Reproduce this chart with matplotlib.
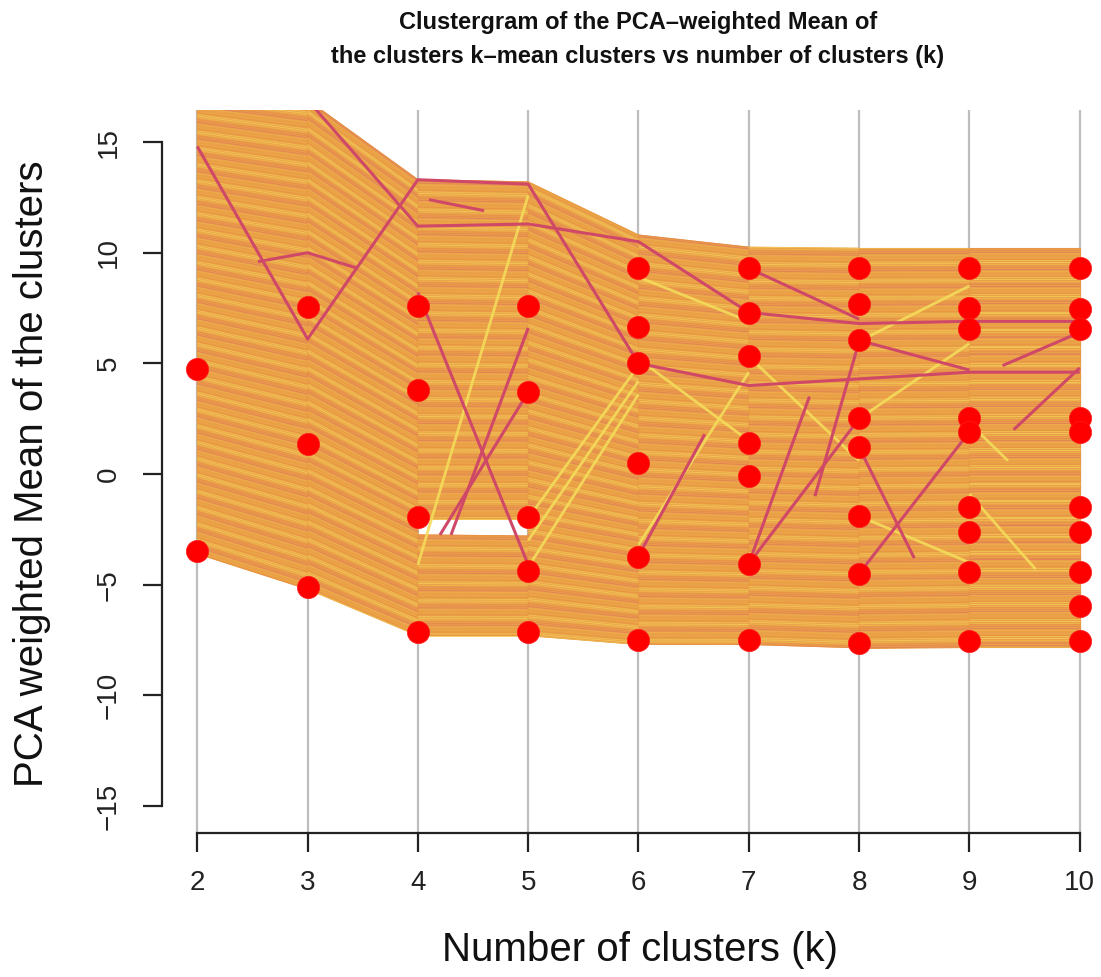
import numpy as np
import matplotlib
matplotlib.use("Agg")
import matplotlib.pyplot as plt
from matplotlib.patches import Polygon
from matplotlib.collections import LineCollection

plt.rcParams["font.family"] = ["Liberation Sans", "DejaVu Sans"]

# Number of clusters on the x axis
k_values = [2, 3, 4, 5, 6, 7, 8, 9, 10]

# PCA-weighted cluster means for each k (red dots)
cluster_means = [
    [4.73, -3.46],
    [7.53, 1.38, -5.09],
    [7.58, 3.78, -1.92, -7.13],
    [7.58, 3.69, -1.92, -4.37, -7.13],
    [9.30, 6.63, 5.00, 0.48, -3.73, -7.49],
    [9.30, 7.26, 5.32, 1.42, -0.11, -4.05, -7.49],
    [9.30, 7.67, 6.04, 2.51, 1.24, -1.88, -4.50, -7.62],
    [9.30, 7.49, 6.54, 2.51, 1.88, -1.47, -2.60, -4.41, -7.53],
    [9.30, 7.44, 6.54, 2.51, 1.88, -1.47, -2.60, -4.41, -5.95, -7.53],
]

# Envelope of the observation lines at each k
band_top = [17.5, 16.9, 13.3, 13.2, 10.8, 10.25, 10.2, 10.2, 10.2]
band_bottom = [-3.6, -5.2, -7.3, -7.3, -7.7, -7.7, -7.85, -7.8, -7.8]

# Empty strip between k=4 and k=5
gap_k = [4, 5]
gap_upper = [-2.05, -2.05]
gap_lower = [-2.75, -2.80]

# Individual observation paths that stand out
pink_paths = [
    ([2, 3, 4, 5, 6, 7, 8, 9, 10], [14.8, 6.1, 13.3, 13.1, 5.0, 4.0, 4.3, 4.6, 4.6]),
    ([3, 4, 5, 6, 7, 8, 9, 10], [16.9, 11.2, 11.3, 10.5, 7.3, 6.8, 6.9, 6.9]),
    ([2.55, 3.0, 3.45], [9.6, 10.0, 9.3]),
    ([4.0, 5.0], [8.2, -4.1]),
    ([4.2, 5.0], [-2.75, 3.7]),
    ([4.3, 5.0], [-2.75, 6.6]),
    ([4.1, 4.6], [12.4, 11.9]),
    ([7.0, 8.0], [9.3, 7.0]),
    ([7.0, 7.55], [-4.05, 3.5]),
    ([7.0, 8.0], [-4.05, 2.5]),
    ([8.0, 8.5], [1.2, -3.8]),
    ([8.0, 9.0], [-4.5, 1.9]),
    ([7.6, 8.0], [-1.0, 6.0]),
    ([6.0, 6.6], [-3.7, 1.8]),
    ([8.0, 9.0], [6.04, 4.7]),
    ([9.3, 10.0], [4.9, 6.4]),
    ([9.4, 10.0], [2.0, 4.8]),
]

yellow_paths = [
    ([4.0, 5.0], [-4.1, 12.6]),
    ([5.0, 6.0], [-2.0, 4.9]),
    ([5.0, 6.0], [-3.0, 4.2]),
    ([5.0, 6.0], [-4.2, 3.6]),
    ([6.0, 7.0], [8.9, 6.9]),
    ([6.0, 7.0], [5.2, 1.5]),
    ([6.0, 7.0], [-3.2, 4.6]),
    ([7.0, 8.0], [5.3, 0.6]),
    ([8.0, 9.0], [6.0, 8.5]),
    ([8.0, 9.0], [2.5, 5.9]),
    ([8.0, 9.0], [-1.9, -4.0]),
    ([9.0, 9.6], [-0.9, -4.3]),
    ([9.0, 9.35], [2.3, 0.6]),
]

W, H = 1101, 977
fig = plt.figure(figsize=(W / 100, H / 100), dpi=100)
px_left, px_right, px_top, px_bottom = 162, 1115, 110, 833
ax = fig.add_axes([px_left / W, 1 - px_bottom / H,
                   (px_right - px_left) / W, (px_bottom - px_top) / H])
ax.set_xlim(1.68, 10.32)
ax.set_ylim(-16.22, 16.45)

# vertical guide lines at each k
ax.vlines(k_values, -16.22, 16.45, color="#BDBDBD", lw=1.6, zorder=0)

base_color = "#EAA04A"
stripe_colors = ["#E99440", "#EEAE4A", "#E8904A", "#F1C250", "#EAA042",
                 "#E58A4C", "#F3CB58", "#ECA644", "#E2805A", "#EFB64A"]


def sub_bands(i):
    k0, k1 = k_values[i], k_values[i + 1]
    if k0 == gap_k[0] and k1 == gap_k[1]:
        return [(band_bottom[i], gap_lower[0], band_bottom[i + 1], gap_lower[1]),
                (gap_upper[0], band_top[i], gap_upper[1], band_top[i + 1])]
    return [(band_bottom[i], band_top[i], band_bottom[i + 1], band_top[i + 1])]


for i in range(len(k_values) - 1):
    k0, k1 = k_values[i], k_values[i + 1]
    for lo0, hi0, lo1, hi1 in sub_bands(i):
        poly = Polygon([(k0, lo0), (k0, hi0), (k1, hi1), (k1, lo1)],
                       closed=True, facecolor=base_color, edgecolor="#E8963F",
                       lw=0.8, zorder=1)
        ax.add_patch(poly)
        n = max(8, int(max(hi0 - lo0, hi1 - lo1) * 13))
        frac = np.linspace(0, 1, n)
        segs = [[(k0, lo0 + f * (hi0 - lo0)), (k1, lo1 + f * (hi1 - lo1))] for f in frac]
        cols = [stripe_colors[(j * 7 + i * 3) % len(stripe_colors)] for j in range(n)]
        ax.add_collection(LineCollection(segs, colors=cols, linewidths=0.7,
                                         alpha=0.85, zorder=2))

for xs, ys in yellow_paths:
    ax.plot(xs, ys, color="#F4DC5A", lw=2.0, alpha=0.9, zorder=3,
            solid_capstyle="butt")
for xs, ys in pink_paths:
    ax.plot(xs, ys, color="#CF4868", lw=2.2, zorder=4, solid_capstyle="butt")

for k, means in zip(k_values, cluster_means):
    ax.plot([k] * len(means), means, "o", color="#FF0000", ms=16,
            mec="#FF1A1A", mew=0.5, zorder=6, clip_on=False)

# R-style axes
for side in ("top", "right"):
    ax.spines[side].set_visible(False)
ax.spines["left"].set_bounds(-15, 15)
ax.spines["bottom"].set_bounds(2, 10)
for side in ("left", "bottom"):
    ax.spines[side].set_linewidth(1.6)
    ax.spines[side].set_color("#222222")
ax.set_xticks(k_values)
ax.set_xticklabels([str(k) for k in k_values])
y_ticks = [-15, -10, -5, 0, 5, 10, 15]
ax.set_yticks(y_ticks)
ax.set_yticklabels([str(v).replace("-", "\u2212") for v in y_ticks],
                   rotation=90, va="center")
ax.tick_params(axis="both", direction="out", length=14, width=1.6,
               color="#222222", labelsize=20, labelcolor="#222222")
ax.tick_params(axis="x", pad=13)
ax.tick_params(axis="y", pad=15)
ax.set_facecolor("white")

fig.text(638 / W, 1 - 22 / H, "Clustergram of the PCA\u2013weighted Mean of",
         ha="center", va="center", fontsize=17, fontweight="bold", color="#111111")
fig.text(638 / W, 1 - 57 / H,
         "the clusters k\u2013mean clusters vs number of clusters (k)",
         ha="center", va="center", fontsize=17, fontweight="bold", color="#111111")
fig.text(32 / W, 1 - 474 / H, "PCA weighted Mean of the clusters",
         rotation=90, ha="center", va="center", fontsize=29, color="#111111")
fig.text(640 / W, 1 - 950 / H, "Number of clusters (k)",
         ha="center", va="center", fontsize=29, color="#111111")

fig.savefig("out.png", dpi=100, facecolor="white")
